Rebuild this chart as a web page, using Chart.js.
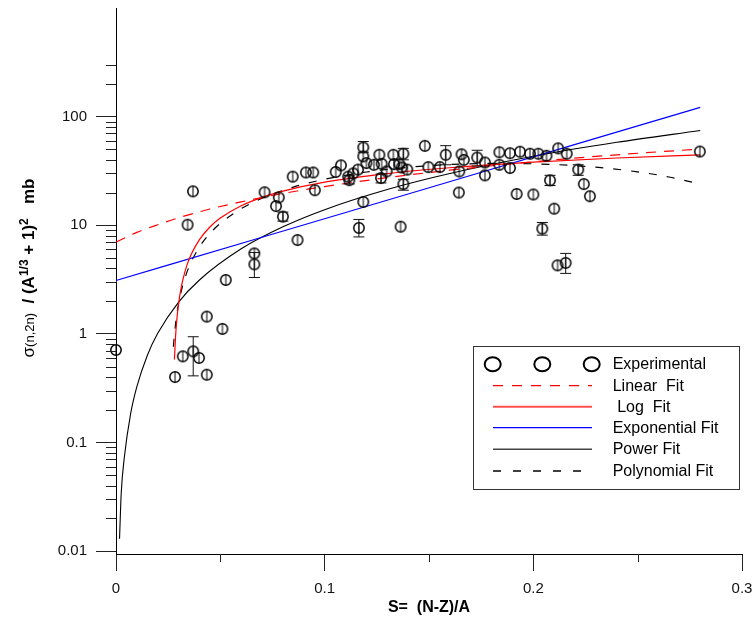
<!DOCTYPE html>
<html>
<head>
<meta charset="utf-8">
<script src="https://cdn.jsdelivr.net/npm/chart.js@4.4.0/dist/chart.umd.min.js"></script>
<style>
  html, body { margin: 0; padding: 0; background: #fff; }
  #wrap { width: 754px; height: 628px; }
</style>
</head>
<body>
<div id="wrap"><canvas id="c" width="754" height="628"></canvas></div>
<script>
// ---------- data ----------
const expS = [0, 0.0283, 0.032, 0.037, 0.0398, 0.0435, 0.0435, 0.051, 0.0526, 0.0663, 0.0663, 0.0369, 0.0343, 0.0712, 0.078, 0.0767, 0.080, 0.0847, 0.091, 0.0945, 0.0953, 0.087, 0.1053, 0.1078, 0.1113, 0.1137, 0.116, 0.1118, 0.1185, 0.1185, 0.120, 0.1236, 0.1262, 0.1273, 0.127, 0.1297, 0.1329, 0.1332, 0.1358, 0.1377, 0.1369, 0.1396, 0.1377, 0.1185, 0.1164, 0.1364, 0.148, 0.1497, 0.1552, 0.158, 0.1645, 0.1643, 0.1656, 0.1667, 0.1731, 0.1768, 0.1768, 0.1837, 0.1837, 0.1888, 0.1888, 0.192, 0.1936, 0.1984, 0.2024, 0.2063, 0.2119, 0.216, 0.2215, 0.208, 0.2242, 0.2271, 0.200, 0.21, 0.2043, 0.2116, 0.2155, 0.2798];
const expY = [0.71, 0.40, 0.62, 0.69, 0.60, 0.42, 1.44, 1.11, 3.13, 4.36, 5.5, 20.5, 10.1, 20.1, 18.0, 15.0, 12.0, 28, 30.6, 30.6, 21, 7.3, 30.9, 35.6, 28, 30, 32.5, 26, 52, 43, 37.3, 36, 44.5, 36.8, 27.2, 31.3, 44.5, 36.5, 36.5, 45.5, 34, 32.5, 23.9, 16.4, 9.45, 9.7, 53.8, 34.3, 34.3, 44.5, 31.3, 20, 45, 40, 42, 37.8, 28.8, 47, 36, 46, 33.6, 19.4, 47.5, 45.5, 45.5, 43.6, 51, 45.5, 32.5, 25.9, 23.9, 18.5, 19.2, 14.2, 9.3, 4.27, 4.5, 47.7];

const errS  = [0.037, 0.0663, 0.080, 0.1118, 0.1185, 0.127, 0.1377, 0.1377, 0.1164, 0.158, 0.1731, 0.2215, 0.208, 0.2043, 0.2155];
const errLo = [0.41, 3.3, 10.9, 24, 47, 24.5, 40, 21, 7.8, 36, 35, 28.8, 23.2, 8.1, 3.6];
const errHi = [0.94, 5.6, 13.2, 28.5, 59, 29.6, 51, 26.5, 11.3, 54, 49, 36, 28.8, 10.6, 5.5];

const linS = [0, 0.01, 0.02, 0.03, 0.045, 0.06, 0.08, 0.1, 0.13, 0.16, 0.2, 0.24, 0.28];
const linY = [7.0, 8.6, 10.1, 11.7, 14.1, 16.4, 19.6, 22.7, 27.4, 32.1, 38.4, 44.5, 50.3];

const logS = [0.028, 0.0285, 0.029, 0.03, 0.031, 0.032, 0.034, 0.036, 0.04, 0.045, 0.05, 0.06, 0.07, 0.08, 0.1, 0.13, 0.16, 0.2, 0.24, 0.28];
const logY = [0.58, 0.91, 1.25, 1.9, 2.52, 3.12, 4.29, 5.38, 7.38, 9.63, 11.64, 15.12, 18.06, 20.6, 24.9, 29.9, 33.8, 38.1, 41.6, 44.5];

const expoS = [0, 0.07, 0.14, 0.21, 0.28];
const expoY = [3.1, 7.75, 19.4, 48.6, 121.6];

const powS = [0.0017, 0.0025, 0.004, 0.007, 0.01, 0.015, 0.02, 0.03, 0.04, 0.06, 0.08, 0.1, 0.13, 0.16, 0.2, 0.24, 0.28];
const powY = [0.013, 0.034, 0.073, 0.183, 0.326, 0.632, 1.01, 1.96, 3.13, 6.06, 9.66, 13.9, 21.3, 29.9, 43.1, 58, 74.5];

const polS = [0.0275, 0.028, 0.029, 0.03, 0.032, 0.035, 0.04, 0.045, 0.05, 0.06, 0.07, 0.085, 0.1, 0.12, 0.14, 0.16, 0.185, 0.21, 0.23, 0.25, 0.265, 0.28];
const polY = [0.76, 0.99, 1.45, 1.9, 2.8, 4.14, 6.3, 8.39, 10.4, 14.2, 17.7, 22.45, 26.5, 30.9, 34.1, 36.2, 37.1, 36.2, 34.2, 31.0, 27.8, 23.9];

const xTicks = [0, 0.1, 0.2, 0.3];
const xTickLabels = ['0', '0.1', '0.2', '0.3'];
const xMinor = [0.05, 0.15, 0.25];
const yTicks = [0.01, 0.1, 1, 10, 100];
const yTickLabels = ['0.01', '0.1', '1', '10', '100'];
const yMinor = [0.02,0.03,0.04,0.05,0.06,0.07,0.08,0.09, 0.2,0.3,0.4,0.5,0.6,0.7,0.8,0.9, 2,3,4,5,6,7,8,9, 20,30,40,50,60,70,80,90, 200,300];

const legendLabels = ['Experimental', 'Linear  Fit', ' Log  Fit', 'Exponential Fit', 'Power Fit', 'Polynomial Fit'];

// ---------- helpers ----------
const FAM = '"Liberation Sans", Arial, sans-serif';
const pts = (xs, ys) => xs.map((v, i) => ({ x: v, y: ys[i] }));

function makeMarker() {
  const c = document.createElement('canvas');
  c.width = 14; c.height = 14;
  const g = c.getContext('2d');
  g.strokeStyle = '#000';
  g.lineWidth = 1.5;
  g.beginPath(); g.ellipse(7, 7, 5.2, 5.2, 0, 0, Math.PI * 2); g.stroke();
  g.lineWidth = 1;
  g.beginPath(); g.moveTo(7, 1.5); g.lineTo(7, 12.5); g.stroke();
  return c;
}
const marker = makeMarker();

const fitStyles = [
  { color: '#ff0000', dash: [10, 8], width: 1.2 },
  { color: '#ff0000', dash: [], width: 1.2 },
  { color: '#0000ff', dash: [], width: 1.2 },
  { color: '#000000', dash: [], width: 1.1 },
  { color: '#000000', dash: [8, 10], width: 1.2 }
];
const legendStyles = [
  { color: '#ff0000', dash: [10, 9], width: 1.3 },
  { color: '#ff5050', dash: [], width: 2 },
  { color: '#0000ff', dash: [], width: 1.3 },
  { color: '#444444', dash: [], width: 1.5 },
  { color: '#000000', dash: [8, 12], width: 1.3 }
];

function lineDs(xs, ys, st) {
  return {
    data: pts(xs, ys), showLine: true, pointRadius: 0, borderColor: st.color,
    borderWidth: st.width, borderDash: st.dash, fill: false,
    cubicInterpolationMode: 'monotone', clip: false
  };
}

function noPad(s) {
  s.paddingTop = 0; s.paddingBottom = 0; s.paddingLeft = 0; s.paddingRight = 0;
}

const extras = {
  id: 'extras',
  afterDatasetsDraw(chart) {
    const { ctx, scales: { x, y } } = chart;
    ctx.save();
    ctx.strokeStyle = '#111';
    ctx.lineWidth = 1;
    errS.forEach((s, i) => {
      const px = x.getPixelForValue(s);
      const p1 = y.getPixelForValue(errLo[i]);
      const p2 = y.getPixelForValue(errHi[i]);
      ctx.beginPath();
      ctx.moveTo(px, p1); ctx.lineTo(px, p2);
      ctx.moveTo(px - 5.5, p1); ctx.lineTo(px + 5.5, p1);
      ctx.moveTo(px - 5.5, p2); ctx.lineTo(px + 5.5, p2);
      ctx.stroke();
    });
    ctx.restore();
  },
  afterDraw(chart) {
    const { ctx, chartArea: ca, scales: { x, y } } = chart;
    ctx.save();
    // minor ticks
    ctx.strokeStyle = '#222';
    ctx.lineWidth = 1;
    yMinor.forEach(v => {
      const py = Math.round(y.getPixelForValue(v)) + 0.5;
      ctx.beginPath(); ctx.moveTo(ca.left - 10, py); ctx.lineTo(ca.left, py); ctx.stroke();
    });
    xMinor.forEach(v => {
      const px = Math.round(x.getPixelForValue(v)) + 0.5;
      ctx.beginPath(); ctx.moveTo(px, ca.bottom); ctx.lineTo(px, ca.bottom + 8); ctx.stroke();
    });

    // y axis title with sub/superscripts
    const parts = [
      { t: 'σ', f: '17px ' + FAM, dy: 0 },
      { t: '(n,2n)', f: '13px ' + FAM, dy: 0 },
      { t: '  / (A', f: 'bold 17px ' + FAM, dy: 0 },
      { t: '1/3', f: 'bold 12px ' + FAM, dy: -6 },
      { t: ' + 1)', f: 'bold 17px ' + FAM, dy: 0 },
      { t: '2', f: 'bold 12px ' + FAM, dy: -6 },
      { t: '   mb', f: 'bold 17px ' + FAM, dy: 0 }
    ];
    let total = 0;
    parts.forEach(p => { ctx.font = p.f; p.w = ctx.measureText(p.t).width; total += p.w; });
    ctx.save();
    ctx.translate(34, 268);
    ctx.rotate(-Math.PI / 2);
    ctx.fillStyle = '#000';
    ctx.textBaseline = 'alphabetic';
    ctx.textAlign = 'left';
    let cx = -total / 2;
    parts.forEach(p => { ctx.font = p.f; ctx.fillText(p.t, cx, p.dy); cx += p.w; });
    ctx.restore();

    // legend box
    ctx.fillStyle = '#fff';
    ctx.fillRect(473.5, 346.5, 266, 143);
    ctx.strokeStyle = '#333';
    ctx.lineWidth = 1;
    ctx.strokeRect(473.5, 346.5, 266, 143);
    const rowY = [364.3, 385.7, 406.7, 427.7, 449.3, 471];
    const textX = [612.7, 612.7, 612.7, 612.7, 612.7, 612.7];
    ctx.strokeStyle = '#000';
    ctx.lineWidth = 2;
    [492.7, 542.3, 591.7].forEach(cxp => {
      ctx.beginPath(); ctx.ellipse(cxp, rowY[0], 8, 7, 0, 0, Math.PI * 2); ctx.stroke();
    });
    legendStyles.forEach((st, i) => {
      ctx.strokeStyle = st.color;
      ctx.lineWidth = st.width;
      ctx.setLineDash(st.dash);
      ctx.beginPath(); ctx.moveTo(493, rowY[i + 1]); ctx.lineTo(592, rowY[i + 1]); ctx.stroke();
    });
    ctx.setLineDash([]);
    ctx.fillStyle = '#000';
    ctx.font = '16px ' + FAM;
    ctx.textBaseline = 'middle';
    ctx.textAlign = 'left';
    legendLabels.forEach((t, i) => ctx.fillText(t, textX[i], rowY[i] + 0.5));
    ctx.restore();
  }
};

Chart.defaults.font.family = FAM;
Chart.defaults.color = '#000';

new Chart(document.getElementById('c'), {
  type: 'scatter',
  data: {
    datasets: [
      {
        data: pts(expS, expY), pointStyle: marker, pointRadius: 7,
        showLine: false, clip: false
      },
      lineDs(linS, linY, fitStyles[0]),
      lineDs(logS, logY, fitStyles[1]),
      lineDs(expoS, expoY, fitStyles[2]),
      lineDs(powS, powY, fitStyles[3]),
      lineDs(polS, polY, fitStyles[4])
    ]
  },
  options: {
    responsive: false,
    animation: false,
    events: [],
    layout: { padding: { top: 6, right: 12, left: 0, bottom: 0 } },
    plugins: { legend: { display: false }, tooltip: { enabled: false } },
    scales: {
      x: {
        type: 'linear', min: 0, max: 0.3,
        afterBuildTicks: s => { s.ticks = xTicks.map(v => ({ value: v })); },
        afterFit: s => { s.height = 74; noPad(s); },
        ticks: {
          font: { size: 15 }, color: '#111', padding: 9, maxRotation: 0,
          callback: (v) => { const i = xTicks.findIndex(t => Math.abs(t - v) < 1e-9); return i >= 0 ? xTickLabels[i] : ''; }
        },
        grid: { drawOnChartArea: false, drawTicks: true, tickLength: 17, color: '#222' },
        border: { display: true, color: '#000', width: 1 },
        title: {
          display: true, text: 'S=  (N-Z)/A', font: { size: 16, weight: 'bold' },
          color: '#000', padding: { top: 0, bottom: 11 }
        }
      },
      y: {
        type: 'logarithmic', min: 0.00939, max: 1000,
        afterBuildTicks: s => { s.ticks = yTicks.map(v => ({ value: v })); },
        afterFit: s => { s.width = 116; noPad(s); },
        ticks: {
          font: { size: 15 }, color: '#111', padding: 9,
          callback: (v) => { const i = yTicks.findIndex(t => Math.abs(t - v) / t < 1e-6); return i >= 0 ? yTickLabels[i] : ''; }
        },
        grid: { drawOnChartArea: false, drawTicks: true, tickLength: 20, color: '#222' },
        border: { display: true, color: '#000', width: 1 }
      }
    }
  },
  plugins: [extras]
});
</script>
</body>
</html>
